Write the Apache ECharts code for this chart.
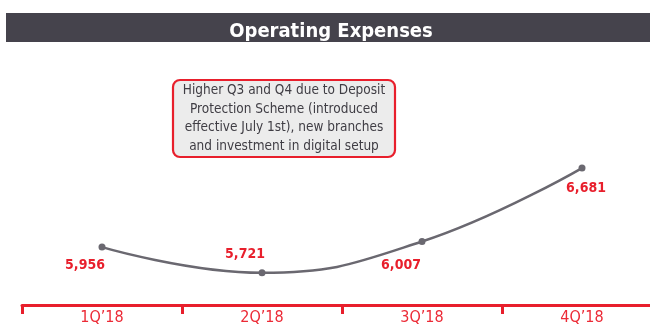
<!DOCTYPE html>
<html>
<head>
<meta charset="utf-8">
<script src="https://cdn.jsdelivr.net/npm/echarts@6/dist/echarts.min.js"></script>
<style>
  html, body { margin: 0; padding: 0; background: #ffffff; overflow: hidden; }
  #chart { width: 662px; height: 327px; }
</style>
</head>
<body>
<div id="chart"></div>
<script>
// Quarterly operating expenses
const quarters = ['1Q’18', '2Q’18', '3Q’18', '4Q’18'];
const expenses = [5956, 5721, 6007, 6681];
// label placement per point: [dx, dy] relative to the marker
const labelOffsets = [[-17, 18], [-17, -18], [-21, 24], [4, 20]];

const titleText = 'Operating Expenses';
const noteLines = [
  'Higher Q3 and Q4 due to Deposit',
  'Protection Scheme (introduced',
  'effective July 1st), new branches',
  'and investment in digital setup'
];

const RED = '#e81f2c';
const GREY = '#6a6870';
const FONT = '"DejaVu Sans Condensed", "Liberation Sans Narrow", "Noto Sans", sans-serif';

const chart = echarts.init(document.getElementById('chart'));

chart.setOption({
  animation: false,
  title: {
    text: titleText,
    left: 'center',
    top: 15,
    textStyle: { color: '#ffffff', fontFamily: FONT, fontWeight: 'bold', fontSize: 20, lineHeight: 24 }
  },
  graphic: [
    {
      type: 'rect', z: -1,
      shape: { x: 6, y: 13, width: 660, height: 29 },
      style: { fill: '#45434c' }
    },
    {
      type: 'rect',
      shape: { x: 173, y: 80, width: 222, height: 77, r: 7 },
      style: { fill: '#ececec', stroke: RED, lineWidth: 2.2 }
    },
    {
      type: 'text',
      x: 284, y: 118.5,
      style: {
        text: noteLines.join('\n'),
        fill: '#3f3d44',
        font: '13.5px ' + FONT,
        align: 'center',
        verticalAlign: 'middle',
        lineHeight: 18.5
      }
    }
  ],
  grid: { left: 22, right: 0, top: 50, bottom: 22, containLabel: false },
  xAxis: {
    type: 'category',
    data: quarters,
    boundaryGap: true,
    axisLine: { show: true, lineStyle: { color: RED, width: 3 } },
    axisTick: { show: true, inside: false, length: 9, lineStyle: { color: RED, width: 3 } },
    axisLabel: { color: '#ec2a36', fontFamily: FONT, fontSize: 16, margin: 5 },
    splitLine: { show: false }
  },
  yAxis: {
    type: 'value',
    min: 5425,
    max: 7764,
    show: false,
    splitLine: { show: false }
  },
  series: [{
    type: 'line',
    data: expenses.map((v, i) => ({
      value: v,
      label: { offset: labelOffsets[i] }
    })),
    smooth: 0.45,
    symbol: 'circle',
    symbolSize: 7,
    lineStyle: { color: GREY, width: 2.5 },
    itemStyle: { color: GREY },
    label: {
      show: true,
      position: 'inside',
      color: RED,
      fontFamily: FONT,
      fontWeight: 'bold',
      fontSize: 14,
      formatter: p => p.value.toLocaleString('en-US')
    }
  }]
});
</script>
</body>
</html>
